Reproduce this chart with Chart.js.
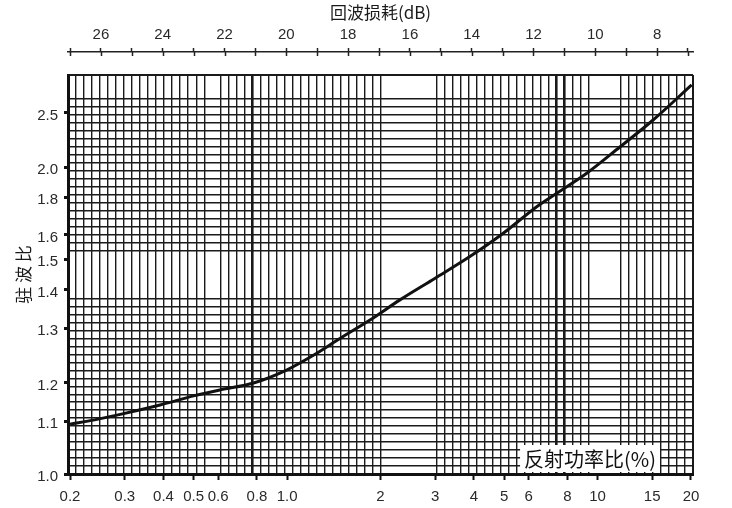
<!DOCTYPE html>
<html>
<head>
<meta charset="utf-8">
<script src="https://cdn.jsdelivr.net/npm/chart.js@4.4.1/dist/chart.umd.min.js"></script>
<style>
html,body{margin:0;padding:0;background:#fff;}
canvas{display:block;}
</style>
</head>
<body>
<canvas id="c" width="732" height="508"></canvas>
<script>
// ---------------- data ----------------
const reflectedPowerPct = [0.2, 0.24, 0.3, 0.39, 0.5, 0.61, 0.78, 1.0, 1.22, 1.48, 1.85, 2.31, 3.0, 3.88, 4.97, 6.37, 7.39, 9.23, 11.8, 15.1, 20.1];
const vswrValues        = [1.094, 1.103, 1.120, 1.142, 1.166, 1.182, 1.200, 1.224, 1.251, 1.281, 1.321, 1.374, 1.438, 1.510, 1.609, 1.749, 1.825, 1.958, 2.185, 2.435, 2.759];

const xTickValues = [0.2, 0.3, 0.4, 0.5, 0.6, 0.8, 1, 2, 3, 4, 5, 6, 8, 10, 15, 20];
const xTickLabels = ['0.2', '0.3', '0.4', '0.5', '0.6', '0.8', '1.0', '2', '3', '4', '5', '6', '8', '10', '15', '20'];

const yTickValues = [1.0, 1.1, 1.2, 1.3, 1.4, 1.5, 1.6, 1.8, 2.0, 2.5];
const yTickLabels = ['1.0', '1.1', '1.2', '1.3', '1.4', '1.5', '1.6', '1.8', '2.0', '2.5'];

const returnLossTicks  = [27, 26, 25, 24, 23, 22, 21, 20, 19, 18, 17, 16, 15, 14, 13, 12, 11, 10, 9, 8, 7];
const returnLossLabels = ['', '26', '', '24', '', '22', '', '20', '', '18', '', '16', '', '14', '', '12', '', '10', '', '8', ''];

const topTitle   = '回波损耗(dB)';
const yTitle     = '驻 波 比';
const boxLabel   = '反射功率比(%)';

// axis ranges
const xRange  = [0.197, 20.3];
const yRange  = [1.0, 2.85];
const rlRange = [6.838, 27.065];

// ---------------- non-uniform VSWR axis definition ----------------
const vswrStopValues    = [1.0, 1.1, 1.2, 1.3, 1.4, 1.5, 1.6, 1.8, 2.0, 2.5, 2.85];
const vswrStopFractions = [0, 0.1328, 0.2281, 0.3659, 0.4612, 0.5388, 0.5990, 0.6942, 0.7694, 0.9048, 1];

function interp(v, xs, ys) {
  let i = 0;
  if (v <= xs[0]) i = 0;
  else if (v >= xs[xs.length - 1]) i = xs.length - 2;
  else { while (i < xs.length - 2 && v > xs[i + 1]) i++; }
  const t = (v - xs[i]) / (xs[i + 1] - xs[i]);
  return ys[i] + t * (ys[i + 1] - ys[i]);
}

const BaseLinear = Chart.LinearScale || Chart.registry.getScale('linear');
class VswrScale extends BaseLinear {
  getPixelForValue(value) {
    if (value === null || value === undefined || isNaN(value)) return NaN;
    return this.getPixelForDecimal(interp(value, vswrStopValues, vswrStopFractions));
  }
  getValueForPixel(pixel) {
    return interp(this.getDecimalForPixel(pixel), vswrStopFractions, vswrStopValues);
  }
}
VswrScale.id = 'vswr';
VswrScale.defaults = BaseLinear.defaults;
Chart.register(VswrScale);

// ---------------- background grid (chart paper) ----------------
const gridCols = 78, gridRows = 50;
const missingCols = [18, 40, 41, 42, 43, 44, 45, 66, 67, 68];
const heavyCols = [23, 61, 62];
const missingRows = [48, 49, 23, 24, 25, 26, 27];
const colIdx = [], rowIdx = [];
for (let i = 1; i <= gridCols; i++) if (!missingCols.includes(i)) colIdx.push(i);
for (let j = 1; j <= gridRows; j++) if (!missingRows.includes(j)) rowIdx.push(j);

const FONT = '"Liberation Sans", "Noto Sans CJK SC", sans-serif';
const CJK = '"Noto Sans CJK SC", "Liberation Sans", sans-serif';
const INK = '#1a1a1a';

const overlayPlugin = {
  id: 'overlay',
  afterDraw(chart) {
    const ctx = chart.ctx;
    const ca = chart.chartArea;
    ctx.save();
    // lower halves of the crossing ticks on the return-loss axis
    const rl = chart.scales.rl;
    ctx.strokeStyle = '#222';
    ctx.lineWidth = 1.5;
    ctx.beginPath();
    rl.ticks.forEach(t => {
      const px = Math.round(rl.getPixelForValue(t.value)) + 0.5;
      ctx.moveTo(px, rl.bottom);
      ctx.lineTo(px, rl.bottom + 4);
    });
    ctx.stroke();
    // label box
    ctx.font = '20px ' + CJK;
    const w = ctx.measureText(boxLabel).width + 8;
    const h = 27;
    const x = ca.right - 33 - w;
    const y = ca.bottom - 29;
    ctx.fillStyle = '#fff';
    ctx.fillRect(x, y, w, h);
    ctx.fillStyle = '#111';
    ctx.textBaseline = 'middle';
    ctx.textAlign = 'left';
    ctx.fillText(boxLabel, x + 4, y + h / 2 + 1);
    ctx.restore();
  }
};

new Chart(document.getElementById('c'), {
  type: 'line',
  data: {
    datasets: [{
      data: reflectedPowerPct.map((p, i) => ({ x: p, y: vswrValues[i] })),
      borderColor: '#111',
      borderWidth: 3,
      pointRadius: 0,
      cubicInterpolationMode: 'monotone',
      fill: false
    }]
  },
  options: {
    responsive: false,
    devicePixelRatio: 1,
    animation: false,
    layout: { padding: 0 },
    plugins: { legend: { display: false }, tooltip: { enabled: false } },
    scales: {
      x: {
        type: 'logarithmic',
        position: 'bottom',
        min: xRange[0], max: xRange[1],
        bounds: 'data',
        afterBuildTicks: s => { s.ticks = xTickValues.map(v => ({ value: v })); },
        afterFit: s => { s.height = 34; },
        border: { display: true, color: '#111', width: 3 },
        grid: { drawOnChartArea: false, drawTicks: true, tickLength: 6, tickWidth: 2, tickColor: '#111', color: '#111' },
        ticks: {
          autoSkip: false, maxRotation: 0, minRotation: 0, padding: 8,
          color: '#2a2a2a', font: { family: FONT, size: 15 },
          callback: (v, i) => xTickLabels[i]
        }
      },
      y: {
        type: 'vswr',
        position: 'left',
        min: yRange[0], max: yRange[1],
        bounds: 'data',
        afterBuildTicks: s => { s.ticks = yTickValues.map(v => ({ value: v })); },
        afterFit: s => { s.width = 68; },
        border: { display: true, color: '#111', width: 3 },
        grid: { drawOnChartArea: false, drawTicks: true, tickLength: 4, tickWidth: 3, tickColor: '#111', color: '#111' },
        ticks: {
          autoSkip: false, padding: 6, labelOffset: 3,
          color: '#2a2a2a', font: { family: FONT, size: 15 },
          callback: (v, i) => yTickLabels[i]
        },
        title: { display: true, text: yTitle, color: '#1a1a1a', font: { family: CJK, size: 17 }, padding: { top: 13, bottom: 0 } }
      },
      rl: {
        type: 'linear',
        position: 'top',
        weight: 1,
        reverse: true,
        min: rlRange[0], max: rlRange[1],
        bounds: 'data',
        afterBuildTicks: s => { s.ticks = returnLossTicks.map(v => ({ value: v })); },
        afterFit: s => { s.height = 52; },
        border: { display: true, color: '#222', width: 1.5 },
        grid: { drawOnChartArea: false, drawTicks: true, tickLength: 4, tickWidth: 1.5, tickColor: '#222', color: '#222' },
        ticks: {
          autoSkip: false, maxRotation: 0, minRotation: 0, padding: 4,
          color: '#2a2a2a', font: { family: FONT, size: 15 },
          callback: (v, i) => returnLossLabels[i]
        },
        title: { display: true, text: topTitle, color: '#1a1a1a', font: { family: CJK, size: 17 }, padding: { top: 2, bottom: 0 } }
      },
      gx: {
        type: 'linear',
        position: 'top',
        weight: 0,
        min: 0, max: gridCols,
        bounds: 'data',
        afterBuildTicks: s => { s.ticks = colIdx.map(v => ({ value: v })); },
        afterFit: s => { s.height = 23; },
        border: { display: false },
        grid: {
          drawOnChartArea: true, drawTicks: false,
          color: INK,
          lineWidth: ctx => {
            const v = ctx.tick ? ctx.tick.value : 0;
            if (heavyCols.includes(v)) return 2.6;
            if (v === gridCols) return 2;
            return 1.4;
          }
        },
        ticks: { display: false, autoSkip: false }
      },
      gy: {
        type: 'linear',
        position: 'right',
        min: 0, max: gridRows,
        bounds: 'data',
        afterBuildTicks: s => { s.ticks = rowIdx.map(v => ({ value: v })); },
        afterFit: s => { s.width = 39; },
        border: { display: false },
        grid: {
          drawOnChartArea: true, drawTicks: false,
          color: INK,
          lineWidth: ctx => (ctx.tick && ctx.tick.value === gridRows) ? 2 : 1.4
        },
        ticks: { display: false, autoSkip: false }
      }
    }
  },
  plugins: [overlayPlugin]
});
</script>
</body>
</html>
